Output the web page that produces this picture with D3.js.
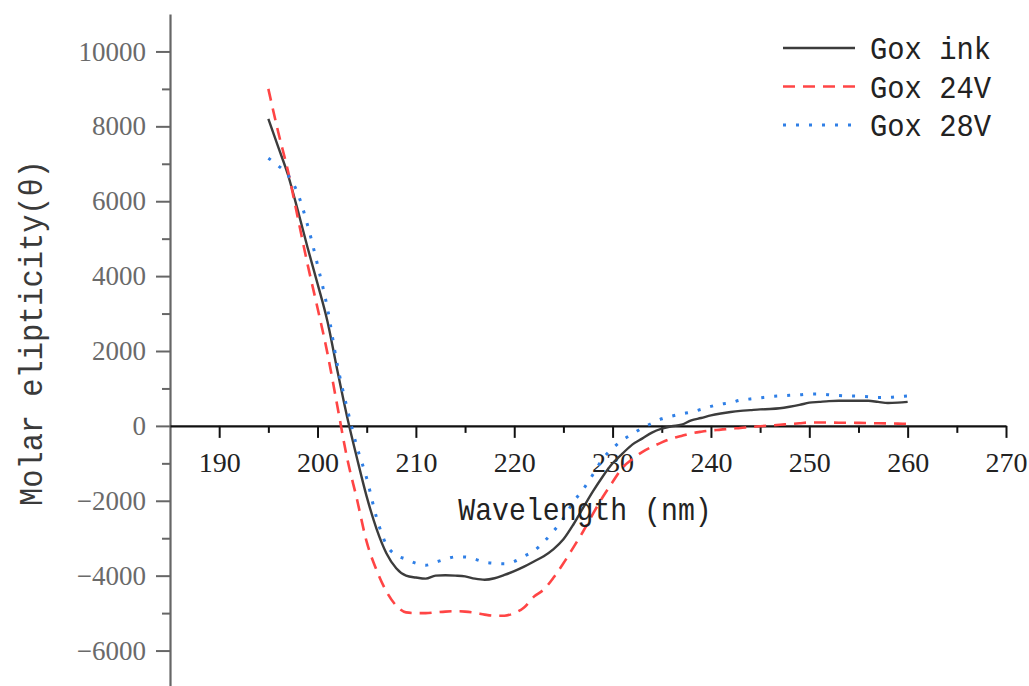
<html>
<head>
<meta charset="utf-8">
<style>
  body { margin: 0; background: #fff; }
  .axis text { font-family: "Liberation Serif", serif; }
</style>
</head>
<body>
<div class="chart"></div>
<script src="https://cdn.jsdelivr.net/npm/d3@7/dist/d3.min.js"></script>
<script type="text/javascript">

// wavelength (nm)
var wavelength = [195,196,197,198,199,200,201,202,203,204,205,206,207,208,209,210,
  211,212,213,214,215,216,217,218,219,220,221,222,223,224,225,226,227,228,229,230,
  231,232,233,234,235,236,237,238,239,240,241,242,243,244,245,246,247,248,249,250,
  251,252,253,254,255,256,257,258,259,260];

var goxInk = [8200,7450,6700,5750,4750,3800,2800,1500,250,-850,-1890,-2750,-3400,-3800,-4000,-4050,
  -4080,-4000,-3990,-4000,-4020,-4080,-4110,-4070,-3980,-3880,-3760,-3620,-3480,-3290,-3030,-2640,-2190,-1750,-1350,-1000,
  -740,-500,-340,-180,-75,-10,30,150,210,280,330,370,400,420,440,450,470,510,560,620,
  640,660,670,670,670,670,640,610,620,640];

var gox24V = [9000,7850,6800,5550,4300,3150,1950,550,-850,-1950,-3100,-3850,-4420,-4800,-4980,-5000,
  -5000,-4980,-4960,-4950,-4960,-4990,-5040,-5070,-5070,-5000,-4850,-4560,-4370,-4050,-3670,-3250,-2820,-2350,-1900,-1500,
  -1120,-890,-700,-560,-440,-340,-270,-200,-155,-120,-100,-75,-55,-30,-10,10,30,50,70,90,
  90,90,85,85,80,75,70,65,60,55];

var gox28V = [7150,6950,6700,6200,5350,4300,3150,1650,480,-550,-1400,-2450,-3170,-3450,-3560,-3670,
  -3720,-3640,-3560,-3500,-3500,-3560,-3640,-3670,-3680,-3620,-3480,-3340,-3100,-2810,-2470,-2040,-1700,-1300,-880,-600,
  -380,-220,-60,70,190,260,320,370,440,520,580,620,690,720,750,780,800,815,830,850,
  850,830,810,800,795,780,760,760,780,800];

var seriesNames = ["Gox ink", "Gox 24V", "Gox 28V"];

var xTicks = [190,200,210,220,230,240,250,260,270];
var xMinor = [195,205,215,225,235,245,255,265];
var yTicks = [-6000,-4000,-2000,0,2000,4000,6000,8000,10000];
var yMinor = [-7000,-5000,-3000,-1000,1000,3000,5000,7000,9000];

var width = 1029, height = 686;

var styles = [
  {color: "#3c3c3c", dash: null, w: 2.4},
  {color: "#ff4545", dash: "12,8", w: 2.6},
  {color: "#2f7fe6", dash: "3,10", w: 3}
];

var svg = d3.select(".chart").append("svg")
  .attr("width", width)
  .attr("height", height);

var x = d3.scaleLinear().domain([185, 270]).range([170, 1006]);
var y = d3.scaleLinear().domain([-7000, 11000]).range([688, 14]);

// y axis (minor + major)
svg.append("g")
  .attr("transform", "translate(170,0)")
  .call(d3.axisLeft(y).tickValues(yMinor).tickSize(8).tickFormat(""))
  .call(function(g) { g.select(".domain").remove(); })
  .selectAll("line").attr("stroke", "#666").attr("stroke-width", 2);

var yAx = svg.append("g")
  .attr("class", "axis")
  .attr("transform", "translate(170,0)")
  .call(d3.axisLeft(y).tickValues(yTicks).tickSize(14).tickSizeOuter(0).tickPadding(10).tickFormat(d3.format("d")));
yAx.select(".domain").attr("stroke", "#666").attr("stroke-width", 2.2);
yAx.selectAll(".tick line").attr("stroke", "#666").attr("stroke-width", 2);
yAx.selectAll(".tick text").attr("fill", "#6a6a6a").attr("font-size", 27);

// x axis at zero
svg.append("g")
  .attr("transform", "translate(0," + y(0) + ")")
  .call(d3.axisBottom(x).tickValues(xMinor).tickSize(7).tickFormat(""))
  .call(function(g) { g.select(".domain").remove(); })
  .selectAll("line").attr("stroke", "#111").attr("stroke-width", 2);

var xAx = svg.append("g")
  .attr("class", "axis")
  .attr("transform", "translate(0," + y(0) + ")")
  .call(d3.axisBottom(x).tickValues(xTicks).tickSize(12).tickSizeOuter(0).tickPadding(14));
xAx.select(".domain").attr("stroke", "#111").attr("stroke-width", 2.2);
xAx.selectAll(".tick line").attr("stroke", "#111").attr("stroke-width", 2);
xAx.selectAll(".tick text").attr("fill", "#222").attr("font-size", 28);

// lines
var line = d3.line()
  .curve(d3.curveMonotoneX)
  .x(function(d) { return x(d[0]); })
  .y(function(d) { return y(d[1]); });

[goxInk, gox24V, gox28V].forEach(function(vals, i) {
  var pts = wavelength.map(function(w, j) { return [w, vals[j]]; });
  svg.append("path")
    .datum(pts)
    .attr("fill", "none")
    .attr("stroke", styles[i].color)
    .attr("stroke-width", styles[i].w)
    .attr("stroke-dasharray", styles[i].dash)
    .attr("d", line);
});

// narrow monospaced text helper
function monoText(px, py, str, size, sx, rot, anchor, fill) {
  var g = svg.append("g")
    .attr("transform", "translate(" + px + "," + py + ") rotate(" + rot + ") scale(" + sx + ",1)");
  g.append("text")
    .attr("font-family", "'Liberation Mono', monospace")
    .attr("font-size", size)
    .attr("text-anchor", anchor)
    .attr("fill", fill)
    .text(str);
}

// axis titles
monoText(585, 520, "Wavelength (nm)", 32, 0.88, 0, "middle", "#222");
monoText(42, 333, "Molar elipticity(\u03b8)", 33, 0.92, -90, "middle", "#3a3a3a");

// legend
seriesNames.forEach(function(name, i) {
  var ly = 48 + i * 38.5;
  svg.append("line")
    .attr("x1", 783).attr("x2", 855)
    .attr("y1", ly).attr("y2", ly)
    .attr("stroke", styles[i].color)
    .attr("stroke-width", styles[i].w)
    .attr("stroke-dasharray", styles[i].dash);
  monoText(870, ly + 11, name, 31, 0.93, 0, "start", "#222");
});

</script>
</body>
</html>
